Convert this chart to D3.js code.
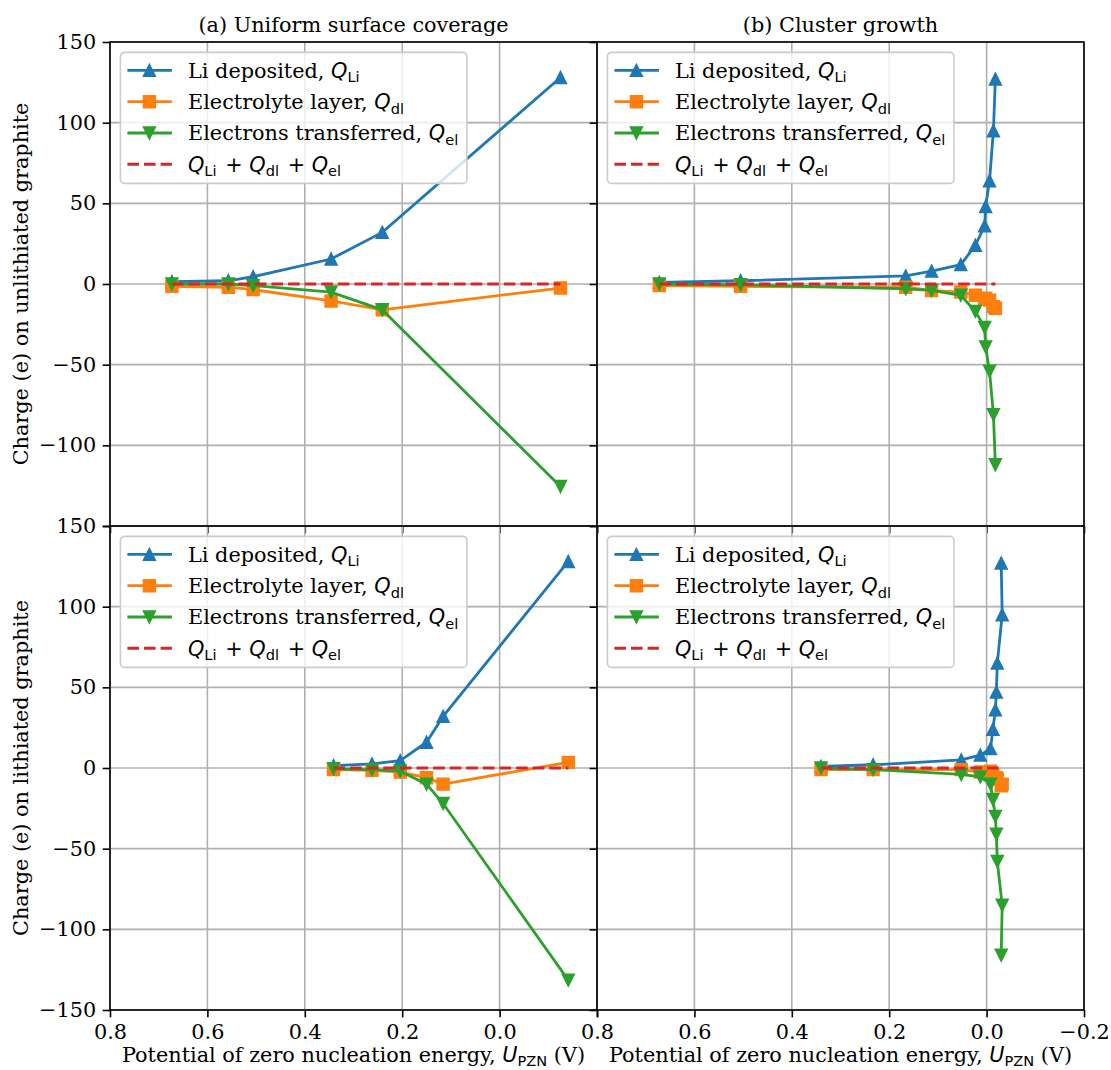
<!DOCTYPE html>
<html>
<head>
<meta charset="utf-8">
<script src="https://cdn.jsdelivr.net/npm/d3@7"></script>
<style>
  body { margin: 0; background: #fff; }
  text { font-family: "DejaVu Serif", serif; fill: #000; }
</style>
</head>
<body>
<div id="chart"></div>
<script>
!(function () {

  // (a) uniform coverage, unlithiated graphite
  var uA  = [0.673, 0.557, 0.506, 0.346, 0.241, -0.125];
  var liA = [1.5, 2, 4.5, 15.5, 32, 128];
  var dlA = [-1.5, -2, -3.5, -10.5, -16, -2.5];
  var elA = [0, 0, -1, -5, -16, -125.5];

  // (b) cluster growth, unlithiated graphite
  var uB  = [0.672, 0.505, 0.166, 0.113, 0.053, 0.023, 0.004, 0.002, -0.006, -0.014, -0.018];
  var liB = [1, 2, 5, 8, 12, 24, 36, 48, 64, 95, 127];
  var dlB = [-1, -1.5, -2, -4, -5, -7, -9, -9, -10, -14, -15];
  var elB = [0, -0.5, -3, -4, -7, -17, -27, -39, -54, -81, -112];

  // (a) uniform coverage, lithiated graphite
  var uC  = [0.341, 0.262, 0.204, 0.150, 0.116, -0.141];
  var liC = [1.5, 2.5, 4.5, 16, 32, 128];
  var dlC = [-1, -1.5, -2.5, -6, -10, 3.5];
  var elC = [-0.5, -1, -2, -10, -22, -131.5];

  // (b) cluster growth, lithiated graphite
  var uD  = [0.340, 0.233, 0.052, 0.013, -0.008, -0.013, -0.018, -0.020, -0.022, -0.032, -0.030];
  var liD = [1, 2, 5, 8, 12, 24, 36, 47, 65, 95, 127];
  var dlD = [-1, -1, -1, -2.5, -2, -4.5, -6, -6, -7, -10, -11];
  var elD = [0, -1, -4, -5.5, -10, -19.5, -30, -41, -58, -85, -116];

  var xTicks = [0.8, 0.6, 0.4, 0.2, 0.0, -0.2];
  var yTicks = [-150, -100, -50, 0, 50, 100, 150];
  var colTitles = ['(a) Uniform surface coverage', '(b) Cluster growth'];
  var rowLabels = ['Charge (e) on unlithiated graphite', 'Charge (e) on lithiated graphite'];

  var W = 1111, H = 1070;
  var left = 110, top = 42, pw = 487, ph = 484;
  var fs = 20.8, tick = 7.3;
  var C = { li: '#1f77b4', dl: '#ff7f0e', el: '#2ca02c', sum: '#d62728' };

  var panels = [
    { col: 0, row: 0, u: uA, li: liA, dl: dlA, el: elA },
    { col: 1, row: 0, u: uB, li: liB, dl: dlB, el: elB },
    { col: 0, row: 1, u: uC, li: liC, dl: dlC, el: elC },
    { col: 1, row: 1, u: uD, li: liD, dl: dlD, el: elD }
  ];

  var svg = d3.select('#chart').append('svg')
    .attr('width', W).attr('height', H);

  function markerPath(kind, s) {
    var h = s / 2;
    if (kind === 'up') return 'M0,' + (-h) + 'L' + h + ',' + h + 'L' + (-h) + ',' + h + 'Z';
    if (kind === 'down') return 'M0,' + h + 'L' + h + ',' + (-h) + 'L' + (-h) + ',' + (-h) + 'Z';
    return 'M' + (-h) + ',' + (-h) + 'H' + h + 'V' + h + 'H' + (-h) + 'Z';
  }

  // Q_{sub} as mathtext-like tspans
  function addQ(txt, sub) {
    txt.append('tspan').attr('font-family', 'DejaVu Sans').attr('font-style', 'italic').text('Q');
    txt.append('tspan').attr('font-family', 'DejaVu Sans').attr('font-size', 14.6).attr('dy', 4.6).text(sub);
    txt.append('tspan').attr('font-size', fs).attr('dy', -4.6).text('\u200a');
  }

  var fmtX = d3.format('.1f'), fmtY = d3.format('d');

  panels.forEach(function (p) {
    var x0 = left + p.col * pw, y0 = top + p.row * ph;
    var x = d3.scaleLinear().domain([0.8, -0.2]).range([x0, x0 + pw]);
    var y = d3.scaleLinear().domain([-150, 150]).range([y0 + ph, y0]);
    var g = svg.append('g');

    // grid
    g.selectAll('.gx').data(xTicks).enter().append('line')
      .attr('x1', x).attr('x2', x).attr('y1', y0).attr('y2', y0 + ph)
      .attr('stroke', '#b0b0b0').attr('stroke-width', 1.6);
    g.selectAll('.gy').data(yTicks).enter().append('line')
      .attr('y1', y).attr('y2', y).attr('x1', x0).attr('x2', x0 + pw)
      .attr('stroke', '#b0b0b0').attr('stroke-width', 1.6);

    // series
    var series = [
      { v: p.li, c: C.li, m: 'up' },
      { v: p.dl, c: C.dl, m: 'sq' },
      { v: p.el, c: C.el, m: 'down' },
      { v: p.li.map(function (d, i) { return d + p.dl[i] + p.el[i]; }), c: C.sum, m: null }
    ];
    series.forEach(function (s) {
      var pts = p.u.map(function (u, i) { return [x(u), y(s.v[i])]; });
      g.append('path')
        .attr('d', d3.line()(pts))
        .attr('fill', 'none')
        .attr('stroke', s.c)
        .attr('stroke-width', s.m ? 2.8 : 2.9)
        .attr('stroke-dasharray', s.m ? null : '11.6,5');
      if (!s.m) return;
      g.selectAll(null).data(pts).enter().append('path')
        .attr('transform', function (d) { return 'translate(' + d[0] + ',' + d[1] + ')'; })
        .attr('d', markerPath(s.m, 11.8))
        .attr('fill', s.c).attr('stroke', s.c).attr('stroke-width', 1.6)
        .attr('stroke-linejoin', 'miter');
    });

    // axes (ticks + labels)
    var ax = g.append('g').attr('transform', 'translate(0,' + (y0 + ph) + ')')
      .call(d3.axisBottom(x).tickValues(xTicks).tickSize(tick).tickPadding(6.5)
        .tickFormat(function (d) {
          if (p.row === 0) return '';
          if (p.col === 0 && d === -0.2) return '';
          return fmtX(d);
        }));
    var ay = g.append('g').attr('transform', 'translate(' + x0 + ',0)')
      .call(d3.axisLeft(y).tickValues(yTicks).tickSize(tick).tickPadding(6.5)
        .tickFormat(function (d) {
          if (p.col === 1) return '';
          if (p.row === 0 && d === -150) return '';
          return fmtY(d);
        }));
    [ax, ay].forEach(function (a) {
      a.select('.domain').remove();
      a.style('font-family', '"DejaVu Serif", serif').attr('font-size', fs);
      a.selectAll('line').attr('stroke', '#000').attr('stroke-width', 1.6);
      a.selectAll('text').style('font-family', '"DejaVu Serif", serif').attr('font-size', fs).attr('fill', '#000');
    });

    // frame
    g.append('rect').attr('x', x0).attr('y', y0).attr('width', pw).attr('height', ph)
      .attr('fill', 'none').attr('stroke', '#000').attr('stroke-width', 1.6);

    // legend
    var lg = g.append('g').attr('transform', 'translate(' + (x0 + 10.4) + ',' + (y0 + 10.4) + ')');
    lg.append('rect').attr('width', 346.5).attr('height', 131).attr('rx', 4)
      .attr('fill', '#fff').attr('fill-opacity', 0.8)
      .attr('stroke', '#ccc').attr('stroke-width', 1.6);
    var entries = [
      { t: 'Li deposited, ', q: 'Li', c: C.li, m: 'up' },
      { t: 'Electrolyte layer, ', q: 'dl', c: C.dl, m: 'sq' },
      { t: 'Electrons transferred, ', q: 'el', c: C.el, m: 'down' },
      { t: null, c: C.sum, m: null }
    ];
    entries.forEach(function (e, i) {
      var cy = 18 + i * 31.3;
      lg.append('line').attr('x1', 7).attr('x2', 51.5).attr('y1', cy).attr('y2', cy)
        .attr('stroke', e.c).attr('stroke-width', e.m ? 2.8 : 2.9)
        .attr('stroke-dasharray', e.m ? null : '11.6,5');
      if (e.m) {
        lg.append('path').attr('transform', 'translate(29,' + cy + ')')
          .attr('d', markerPath(e.m, 11.8))
          .attr('fill', e.c).attr('stroke', e.c).attr('stroke-width', 1.6);
      }
      var txt = lg.append('text').attr('x', 67.6).attr('y', cy + 7.5).attr('font-size', fs);
      if (e.t) {
        txt.append('tspan').text(e.t);
        addQ(txt, e.q);
      } else {
        addQ(txt, 'Li');
        txt.append('tspan').attr('font-family', 'DejaVu Sans').text(' + ');
        addQ(txt, 'dl');
        txt.append('tspan').attr('font-family', 'DejaVu Sans').text(' + ');
        addQ(txt, 'el');
      }
    });

    // titles and axis labels
    if (p.row === 0) {
      svg.append('text').attr('x', x0 + pw / 2).attr('y', 31.5)
        .attr('text-anchor', 'middle').attr('font-size', fs).text(colTitles[p.col]);
    }
    if (p.row === 1) {
      var xl = svg.append('text').attr('x', x0 + pw / 2).attr('y', 1062)
        .attr('text-anchor', 'middle').attr('font-size', fs);
      xl.append('tspan').text('Potential of zero nucleation energy, ');
      xl.append('tspan').attr('font-family', 'DejaVu Sans').attr('font-style', 'italic').text('U');
      xl.append('tspan').attr('font-family', 'DejaVu Sans').attr('font-size', 14.6).attr('dy', 3.6).text('PZN');
      xl.append('tspan').attr('dy', -3.6).text(' (V)');
    }
    if (p.col === 0) {
      svg.append('text')
        .attr('transform', 'translate(28,' + (y0 + ph / 2) + ') rotate(-90)')
        .attr('text-anchor', 'middle').attr('font-size', fs).text(rowLabels[p.row]);
    }
  });

})();
</script>
</body>
</html>
